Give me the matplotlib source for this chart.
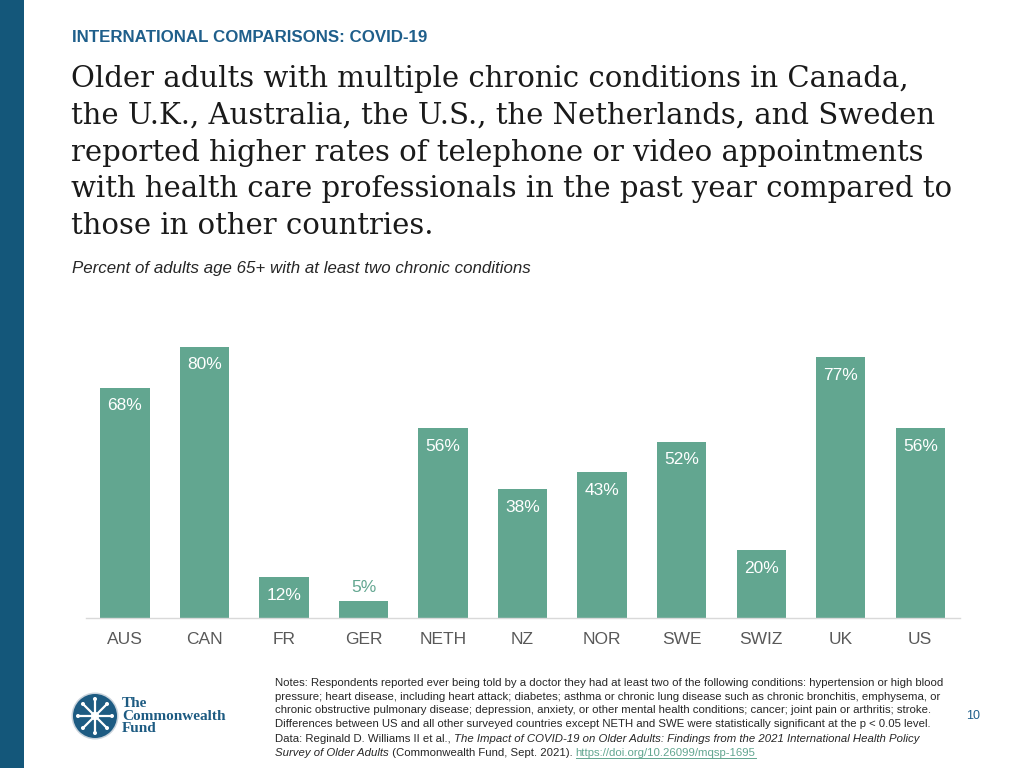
import matplotlib
matplotlib.use('Agg')
import matplotlib.pyplot as plt
from matplotlib.patches import Rectangle, Circle
import numpy as np

# ── Data ───────────────────────────────────────────────────────────────────────
countries = ['AUS', 'CAN', 'FR', 'GER', 'NETH', 'NZ', 'NOR', 'SWE', 'SWIZ', 'UK', 'US']
values    = [68, 80, 12, 5, 56, 38, 43, 52, 20, 77, 56]

header   = 'INTERNATIONAL COMPARISONS: COVID-19'
title_lines = [
    'Older adults with multiple chronic conditions in Canada,',
    'the U.K., Australia, the U.S., the Netherlands, and Sweden',
    'reported higher rates of telephone or video appointments',
    'with health care professionals in the past year compared to',
    'those in other countries.',
]
subtitle = 'Percent of adults age 65+ with at least two chronic conditions'
notes = [
    'Notes: Respondents reported ever being told by a doctor they had at least two of the following conditions: hypertension or high blood',
    'pressure; heart disease, including heart attack; diabetes; asthma or chronic lung disease such as chronic bronchitis, emphysema, or',
    'chronic obstructive pulmonary disease; depression, anxiety, or other mental health conditions; cancer; joint pain or arthritis; stroke.',
    'Differences between US and all other surveyed countries except NETH and SWE were statistically significant at the p < 0.05 level.',
]
# (text, style) pieces for the two source lines
source1 = [('Data: Reginald D. Williams II et al., ', 'normal'),
           ('The Impact of COVID-19 on Older Adults: Findings from the 2021 International Health Policy', 'italic')]
source2 = [('Survey of Older Adults', 'italic'),
           (' (Commonwealth Fund, Sept. 2021). ', 'normal'),
           ('https://doi.org/10.26099/mqsp-1695', 'link')]

# ── Style ──────────────────────────────────────────────────────────────────────
TEAL  = '#62a690'
NAVY  = '#14577a'
BLUE  = '#1f5f8b'
GRAY  = '#595959'
SANS  = 'Liberation Sans'
SERIF = 'DejaVu Serif'
NOTE_FS = 8.2

fig = plt.figure(figsize=(10.24, 7.68), dpi=100)
fig.patch.set_facecolor('white')

# pixel-space overlay for page decorations
bg = fig.add_axes([0, 0, 1, 1], zorder=0)
bg.set_xlim(0, 1024); bg.set_ylim(768, 0); bg.axis('off')
bg.add_patch(Rectangle((0, 0), 24, 768, color=NAVY, lw=0))

bg.text(72, 38, header, fontsize=12.2, fontweight='bold', color=BLUE,
        family=SANS, va='center', ha='left')
for i, line in enumerate(title_lines):
    bg.text(71, 87 + i * 36.8, line, fontsize=21, color='#1a1a1a',
            family=SERIF, va='baseline', ha='left')
bg.text(72, 268, subtitle, fontsize=12.2, style='italic', color='#262626',
        family=SANS, va='center', ha='left')

for i, line in enumerate(notes):
    bg.text(275, 686 + i * 13.7, line, fontsize=NOTE_FS, color='#262626',
            family=SANS, va='baseline', ha='left')

def chain(pieces, x, y):
    prev = None
    for txt, kind in pieces:
        kw = dict(fontsize=NOTE_FS, family=SANS, color='#262626', va='baseline', ha='left')
        if kind == 'italic':
            kw['style'] = 'italic'
        if kind == 'link':
            kw['color'] = TEAL
        if prev is None:
            t = bg.text(x, y, txt, **kw)
        else:
            t = bg.annotate(txt, xy=(1, 0), xycoords=prev, xytext=(0, 0),
                            textcoords='offset points', **{**kw, 'va': 'bottom'})
        prev = t
    return prev

chain(source1, 275, 742)
link = chain(source2, 275, 756)

bg.text(973, 716, '10', fontsize=9, color=BLUE, family=SANS, va='center', ha='center')

# logo
cx, cy, r = 95, 716, 22
bg.add_patch(Circle((cx, cy), r + 1.5, color='#c9d3dc', lw=0))
bg.add_patch(Circle((cx, cy), r, color='#1d5b82', lw=0))
for ang in np.arange(0, 360, 45):
    a = np.deg2rad(ang)
    bg.plot([cx, cx + 15 * np.cos(a)], [cy, cy + 15 * np.sin(a)], color='white', lw=1.6)
    bg.add_patch(Circle((cx + 17 * np.cos(a), cy + 17 * np.sin(a)), 2, color='white', lw=0))
bg.add_patch(Circle((cx, cy), 3.5, color='#1d5b82', ec='white', lw=1))
bg.text(122, 716, 'The\nCommonwealth\nFund', fontsize=11, color='#1d5b82',
        family='Liberation Serif', fontweight='bold', va='center', ha='left',
        linespacing=0.92)

# ── Bar chart ──────────────────────────────────────────────────────────────────
ax = fig.add_axes([86 / 1024, 150 / 768, 874 / 1024, 288 / 768], zorder=1)
ax.patch.set_alpha(0)
x = np.arange(len(countries))
bars = ax.bar(x, values, width=0.62, color=TEAL, zorder=2)
ax.set_xlim(-0.49, len(countries) - 0.5)
ax.set_ylim(0, 85)

for xi, v in zip(x, values):
    if v >= 10:
        ax.annotate(f'{v}%', (xi, v), xytext=(0, -13), textcoords='offset points',
                    ha='center', va='center', color='white', fontsize=12.5, family=SANS)
    else:
        ax.annotate(f'{v}%', (xi, v), xytext=(0, 10), textcoords='offset points',
                    ha='center', va='center', color=TEAL, fontsize=12.5, family=SANS)

ax.set_xticks(x)
ax.set_xticklabels(countries, fontsize=12.5, color=GRAY, family=SANS)
ax.tick_params(axis='x', length=0, pad=10)
ax.set_yticks([])
for side in ('top', 'right', 'left'):
    ax.spines[side].set_visible(False)
ax.spines['bottom'].set_color('#d9d9d9')
ax.spines['bottom'].set_linewidth(1)

# underline the link
fig.canvas.draw()
bb = link.get_window_extent().transformed(bg.transData.inverted())
bg.plot([bb.x0, bb.x1], [757.5, 757.5], color=TEAL, lw=0.7)

fig.savefig('out.png', dpi=100, facecolor='white')
